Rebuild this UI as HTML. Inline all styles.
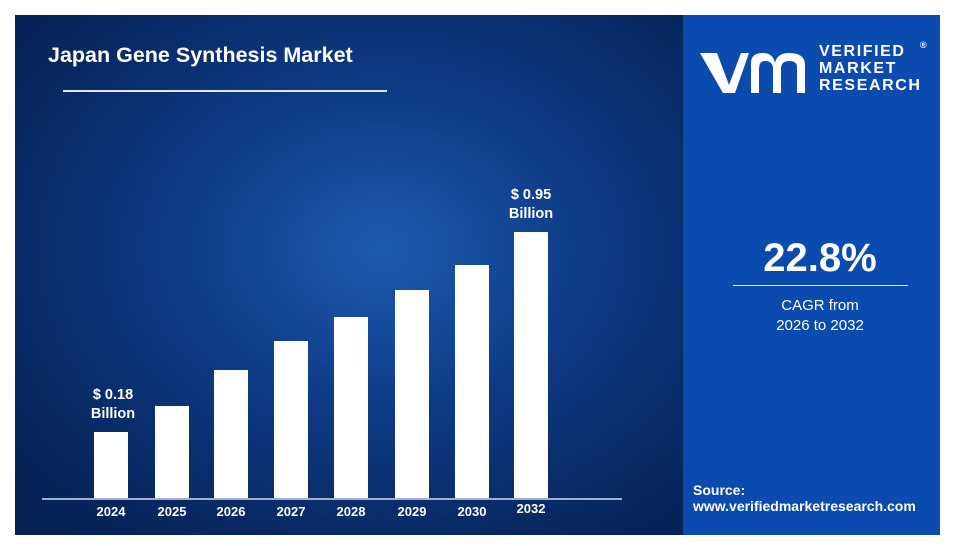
<!DOCTYPE html>
<html><head><meta charset="utf-8"><style>
body{margin:0;width:953px;height:546px;background:#fff;position:relative;overflow:hidden;font-family:"Liberation Sans",sans-serif}
#l{position:absolute;left:15px;top:15px;width:668px;height:520px;background:radial-gradient(ellipse at 55% 45%,#1d5bb0 0%,#0e3a85 40%,#082a66 70%,#061f4f 100%)}
#r{position:absolute;left:683px;top:15px;width:257px;height:520px;background:#0b4bb0}
.t{position:absolute;color:#fff;white-space:nowrap;font-weight:bold}
.b{position:absolute;background:#fff;width:34px}
.y{position:absolute;color:#fff;font-weight:bold;font-size:13px;top:504px;width:50px;text-align:center}
</style></head><body>
<div id="l"></div><div id="r"></div>
<div class="t" style="left:48px;top:43px;font-size:21.5px">Japan Gene Synthesis Market</div>
<div style="position:absolute;left:63px;top:90px;width:324px;height:2px;background:#dfe8f5"></div>
<div class="b" style="left:94px;top:432px;height:66px"></div>
<div class="b" style="left:155px;top:406px;height:92px"></div>
<div class="b" style="left:214px;top:370px;height:128px"></div>
<div class="b" style="left:274px;top:341px;height:157px"></div>
<div class="b" style="left:334px;top:317px;height:181px"></div>
<div class="b" style="left:395px;top:290px;height:208px"></div>
<div class="b" style="left:455px;top:265px;height:233px"></div>
<div class="b" style="left:514px;top:232px;height:266px"></div>
<div style="position:absolute;left:42px;top:498px;width:580px;height:2px;background:#9fb2cc"></div>
<div class="y" style="left:86px">2024</div><div class="y" style="left:147px">2025</div><div class="y" style="left:206px">2026</div><div class="y" style="left:266px">2027</div><div class="y" style="left:326px">2028</div><div class="y" style="left:387px">2029</div><div class="y" style="left:447px">2030</div><div class="y" style="left:506px;top:501px">2032</div>
<div class="t" style="left:76px;top:386px;font-size:14.5px;text-align:center;line-height:19px;width:74px">$ 0.18<br>Billion</div>
<div class="t" style="left:494px;top:186px;font-size:14.5px;text-align:center;line-height:19px;width:74px">$ 0.95<br>Billion</div>
<svg style="position:absolute;left:697px;top:45px" width="115" height="52"><path d="M3 8 L20 8 L32 40 L44 8 L52 8 L38 48 L26 48 Z" fill="#fff"/><path d="M54 48 L54 18 Q54 8 66 8 Q76 8 78 18 Q80 8 92 8 Q108 8 108 20 L108 48 L100 48 L100 22 Q100 16 92 16 Q84 16 84 24 L84 48 L76 48 L76 24 Q76 16 68 16 Q62 16 62 24 L62 48 Z" fill="#fff"/></svg>
<div class="t" style="left:819px;top:43px;font-size:16px;line-height:17px;letter-spacing:1.6px">VERIFIED<br>MARKET<br>RESEARCH</div>
<div class="t" style="left:920px;top:40px;font-size:9px">®</div>
<div class="t" style="left:740px;top:236px;width:160px;text-align:center;font-size:40px">22.8%</div>
<div style="position:absolute;left:733px;top:285px;width:175px;height:1px;background:#dfe8f5"></div>
<div class="t" style="left:740px;top:296px;width:160px;text-align:center;font-size:15px;font-weight:normal;line-height:20px">CAGR from<br>2026 to 2032</div>
<div class="t" style="left:693px;top:482px;font-size:14px;line-height:16px">Source:<br>www.verifiedmarketresearch.com</div>
</body></html>
